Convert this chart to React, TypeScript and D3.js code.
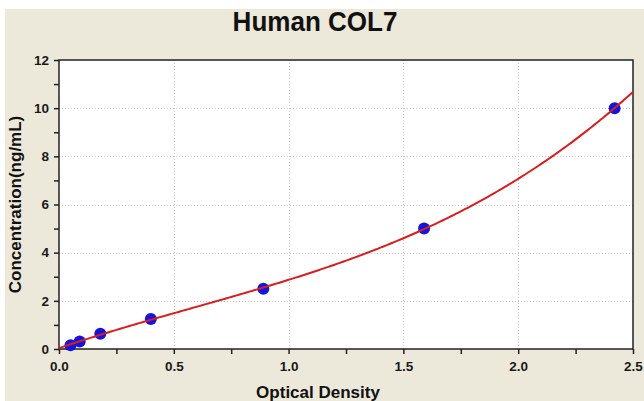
import { useEffect, useRef } from "react";
import * as d3 from "d3";

// standard points
const od = [0.05, 0.09, 0.18, 0.4, 0.89, 1.59, 2.42];
const conc = [0.16, 0.31, 0.63, 1.25, 2.5, 5, 10];
const xTicks = [0, 0.5, 1.0, 1.5, 2.0, 2.5];
const yTicks = [0, 2, 4, 6, 8, 10, 12];

const W = 644;
const H = 401;
const margin = { top: 60, right: 10, bottom: 52, left: 59 };
const font = "'Liberation Sans', Arial, sans-serif";

// least squares cubic fit for the standard curve
const fitCubic = (xs: number[], ys: number[]) => {
  const n = 4;
  const A: number[][] = [];
  for (let i = 0; i < n; i++) {
    A.push([]);
    for (let j = 0; j < n; j++) A[i].push(d3.sum(xs, x => Math.pow(x, i + j)));
    A[i].push(d3.sum(xs, (x, k) => Math.pow(x, i) * ys[k]));
  }
  for (let c = 0; c < n; c++) {
    for (let r = c + 1; r < n; r++) {
      const f = A[r][c] / A[c][c];
      for (let k = c; k <= n; k++) A[r][k] -= f * A[c][k];
    }
  }
  const coef = new Array(n).fill(0);
  for (let r = n - 1; r >= 0; r--) {
    let s = A[r][n];
    for (let k = r + 1; k < n; k++) s -= A[r][k] * coef[k];
    coef[r] = s / A[r][r];
  }
  return (x: number) => coef.reduce((acc, c, i) => acc + c * Math.pow(x, i), 0);
};

const drawChart = (el: SVGSVGElement) => {
  const svg = d3.select(el);
  svg.selectAll("*").remove();

  const x = d3.scaleLinear().domain([0, 2.5]).range([margin.left, W - margin.right - 1]);
  const y = d3.scaleLinear().domain([0, 12]).range([H - margin.bottom, margin.top]);

  // backgrounds
  svg.append("rect").attr("width", W).attr("height", H).attr("fill", "#fff");
  svg.append("rect").attr("x", 5).attr("y", 9).attr("width", W - 5).attr("height", H - 9).attr("fill", "#ece8da");
  svg.append("rect")
    .attr("x", x(0)).attr("y", y(12))
    .attr("width", x(2.5) - x(0)).attr("height", y(0) - y(12))
    .attr("fill", "#fff");

  // grid
  const grid = svg.append("g").attr("stroke", "#c8c8c8").attr("stroke-dasharray", "1,2").attr("stroke-width", 1);
  grid.selectAll("line.gx").data(xTicks.slice(1, -1)).join("line")
    .attr("x1", d => Math.round(x(d)) + 0.5).attr("x2", d => Math.round(x(d)) + 0.5)
    .attr("y1", y(12)).attr("y2", y(0));
  grid.selectAll("line.gy").data(yTicks.slice(1, -1)).join("line")
    .attr("class", "gy")
    .attr("y1", d => Math.round(y(d)) + 0.5).attr("y2", d => Math.round(y(d)) + 0.5)
    .attr("x1", x(0)).attr("x2", x(2.5));

  // axes
  const xAxis = svg.append("g").attr("transform", `translate(0,${y(0)})`)
    .call(d3.axisBottom(x).tickValues(d3.range(0, 2.51, 0.25)).tickSize(5).tickFormat(d => (xTicks.includes(+d) ? d3.format(".1f")(+d) : "")));
  xAxis.select(".domain").remove();
  xAxis.selectAll("line").attr("stroke", "#222").attr("stroke-width", 1.5);
  xAxis.selectAll("text").attr("font-family", font).attr("font-weight", "bold").attr("font-size", 13.5).attr("fill", "#1a1a1a").attr("dy", "1.0em");

  const yAxis = svg.append("g").attr("transform", `translate(${x(0)},0)`)
    .call(d3.axisLeft(y).tickValues(d3.range(0, 12.01, 1)).tickSize(5).tickFormat(d => (yTicks.includes(+d) ? String(d) : "")));
  yAxis.select(".domain").remove();
  yAxis.selectAll("line").attr("stroke", "#222").attr("stroke-width", 1.5);
  yAxis.selectAll("text").attr("font-family", font).attr("font-weight", "bold").attr("font-size", 13.5).attr("fill", "#1a1a1a").attr("dx", "-0.15em");

  // frame
  svg.append("rect")
    .attr("x", x(0)).attr("y", y(12))
    .attr("width", x(2.5) - x(0)).attr("height", y(0) - y(12))
    .attr("fill", "none").attr("stroke", "#222").attr("stroke-width", 1.5);

  // points
  svg.append("g").selectAll("circle").data(od).join("circle")
    .attr("cx", d => x(d)).attr("cy", (d, i) => y(conc[i]))
    .attr("r", 6).attr("fill", "#1414dc");

  // fitted curve
  const f = fitCubic(od, conc);
  const xs = d3.range(0, 2.5001, 0.01);
  const line = d3.line<number>().x(d => x(d)).y(d => y(f(d)));
  svg.append("path").datum(xs).attr("d", line).attr("fill", "none").attr("stroke", "#d81e1e").attr("stroke-width", 2);

  // titles
  svg.append("text").attr("transform", "translate(315,31) scale(0.93,1)").attr("text-anchor", "middle")
    .attr("font-family", font).attr("font-weight", "bold").attr("font-size", 28).attr("fill", "#111")
    .text("Human COL7");
  svg.append("text").attr("x", 318).attr("y", 398).attr("text-anchor", "middle")
    .attr("font-family", font).attr("font-weight", "bold").attr("font-size", 17).attr("fill", "#111")
    .text("Optical Density");
  svg.append("text").attr("transform", `translate(21,${(y(0) + y(12)) / 2}) rotate(-90)`).attr("text-anchor", "middle")
    .attr("font-family", font).attr("font-weight", "bold").attr("font-size", 17).attr("fill", "#111")
    .text("Concentration(ng/mL)");
};

export default function App() {
  const ref = useRef<SVGSVGElement>(null);
  useEffect(() => {
    if (ref.current) drawChart(ref.current);
  }, []);
  return (
    <svg ref={ref} width={W} height={H} style={{ position: "absolute", left: 0, top: 0, display: "block" }} />
  );
}
